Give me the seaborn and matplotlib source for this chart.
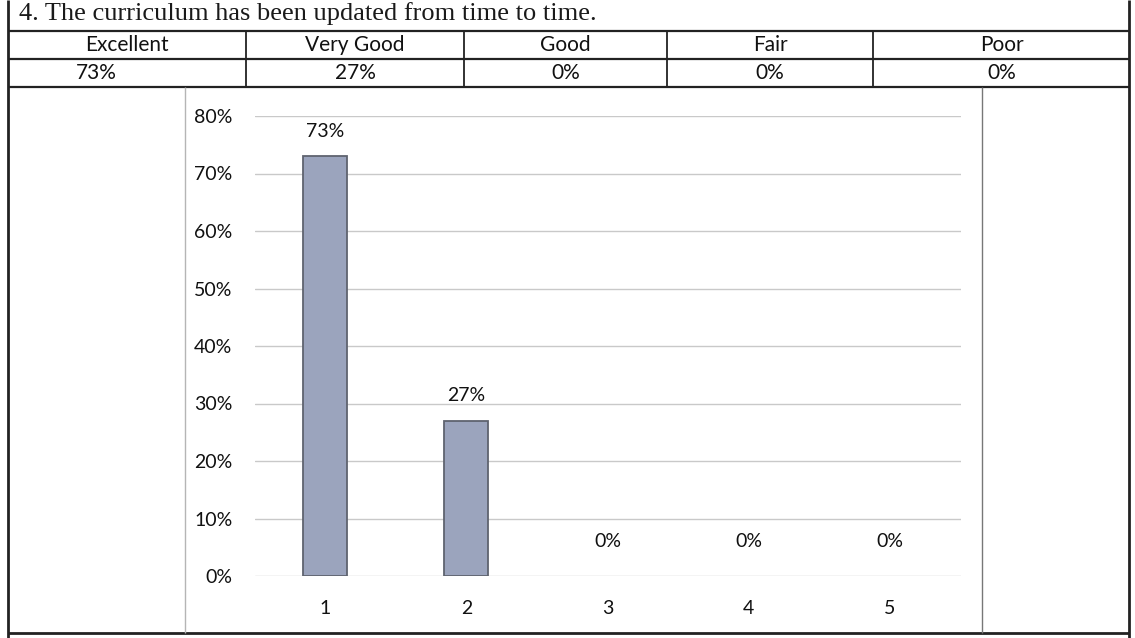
import matplotlib
matplotlib.use("Agg")
import matplotlib.pyplot as plt
from matplotlib.lines import Line2D
from matplotlib.ticker import PercentFormatter
import seaborn as sns

# Survey item and response summary
question = "4. The curriculum has been updated from time to time."
ratings = ["Excellent", "Very Good", "Good", "Fair", "Poor"]
categories = ["1", "2", "3", "4", "5"]
shares = [0.73, 0.27, 0.0, 0.0, 0.0]
y_ticks = [0.0, 0.1, 0.2, 0.3, 0.4, 0.5, 0.6, 0.7, 0.8]

W, H = 1135, 638
sns.set_theme(style="white")
plt.rcParams["font.family"] = ["Lato", "DejaVu Sans"]

fig = plt.figure(figsize=(W / 100, H / 100), dpi=100)
fig.patch.set_facecolor("white")


def fx(x):
    return x / W


def fy(y):
    return 1 - y / H


def hline(x0, x1, y, lw=1.4, color="#222222"):
    fig.add_artist(Line2D([fx(x0), fx(x1)], [fy(y), fy(y)], lw=lw, color=color,
                          transform=fig.transFigure, solid_capstyle="butt"))


def vline(x, y0, y1, lw=1.4, color="#222222"):
    fig.add_artist(Line2D([fx(x), fx(x)], [fy(y0), fy(y1)], lw=lw, color=color,
                          transform=fig.transFigure, solid_capstyle="butt"))


# --- question title and rating table ---
fig.text(fx(19), fy(20), question, family="Liberation Serif", fontsize=19,
         color="#1a1a1a", va="baseline", ha="left")

col_edges = [8, 246, 464, 667, 873, 1130]
top_y, mid_y, bot_y = 31, 59, 87
for y in (top_y, mid_y, bot_y):
    hline(col_edges[0], col_edges[-1], y, lw=1.6)
for x in col_edges[1:-1]:
    vline(x, top_y, bot_y, lw=1.3)

for i, (name, v) in enumerate(zip(ratings, shares)):
    cx = (col_edges[i] + col_edges[i + 1]) / 2
    fig.text(fx(cx), fy(45), name, ha="center", va="center", fontsize=15, color="#111111")
    vx = 96 if i == 0 else cx
    fig.text(fx(vx), fy(73), f"{v * 100:.0f}%", ha="center", va="center",
             fontsize=15, color="#111111")

# outer frame and chart cell
vline(8, 0, H, lw=2.0)
vline(1129, 0, H, lw=2.0)
hline(8, 1129, 633, lw=2.0)
vline(185, bot_y, 633, lw=1.0, color="#b5b5b5")
vline(982, bot_y, 633, lw=1.0, color="#777777")

# --- bar chart ---
ax = fig.add_axes([fx(254.5), fy(576), (960.5 - 254.5) / W, (576 - 116) / H])
ax.set_facecolor("white")
sns.barplot(x=categories, y=shares, ax=ax, color="#9ba4bd", width=0.31,
            edgecolor="#5f636f", linewidth=1.3, saturation=1)
for patch in ax.patches:
    if patch.get_height() == 0:
        patch.set_linewidth(0)

ax.set_ylim(0, 0.8)
ax.set_yticks(y_ticks)
ax.yaxis.set_major_formatter(PercentFormatter(1.0, decimals=0))
ax.grid(axis="y", color="#c9c9c9", linewidth=1.0)
ax.grid(axis="x", visible=False)
ax.set_axisbelow(True)
for s in ax.spines.values():
    s.set_visible(False)
ax.tick_params(axis="y", length=0, pad=16, labelsize=14, labelcolor="#111111")
ax.tick_params(axis="x", length=0, pad=17, labelsize=14, labelcolor="#111111")
ax.set_xlabel("")
ax.set_ylabel("")

for i, v in enumerate(shares):
    pad = 12 if v > 0 else 19
    ax.annotate(f"{v * 100:.0f}%", xy=(i, v), xytext=(0, pad), textcoords="offset points",
                ha="center", va="bottom", fontsize=14, color="#111111")

fig.savefig("out.png", dpi=100, facecolor="white")
